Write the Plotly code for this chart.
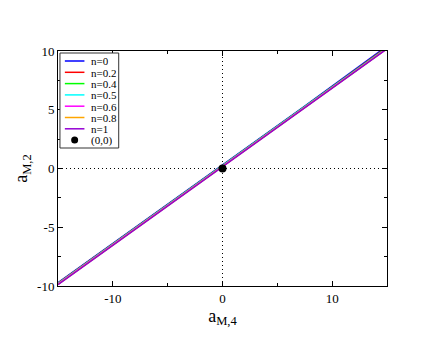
import plotly.graph_objects as go

# curves a_M,2 vs a_M,4 for several n
aM4 = [-15, -7.5, 0, 7.5, 15]
curves = {
    "n=0":   [-9.72, -4.72, 0.28, 5.30, 10.42],
    "n=0.2": [-9.76, -4.76, 0.24, 5.25, 10.33],
    "n=0.4": [-9.79, -4.79, 0.22, 5.22, 10.28],
    "n=0.5": [-9.81, -4.81, 0.20, 5.20, 10.25],
    "n=0.6": [-9.83, -4.83, 0.18, 5.18, 10.22],
    "n=0.8": [-9.86, -4.86, 0.16, 5.16, 10.20],
    "n=1":   [-9.88, -4.88, 0.14, 5.14, 10.18],
}
colors = ["#0000ff", "#ff0000", "#00ff00", "#00ffff", "#ff00ff", "#ffa500", "#9400d3"]
origin_x = [0]
origin_y = [0]
x_ticks = [-10, 0, 10]
y_ticks = [-10, -5, 0, 5, 10]

SERIF = "Liberation Serif, Times New Roman, serif"

fig = go.Figure()
for (name, ys), c in zip(curves.items(), colors):
    fig.add_trace(go.Scatter(x=aM4, y=ys, mode="lines", name=name, showlegend=False,
                             line=dict(color=c, width=1.5)))
fig.add_trace(go.Scatter(x=origin_x, y=origin_y, mode="markers", name="(0,0)", showlegend=False,
                         marker=dict(color="black", size=8)))

# dotted zero lines
dots = "1px,3px"
fig.add_shape(type="line", x0=0, x1=0, y0=-10, y1=10, xref="x", yref="y",
              line=dict(color="black", width=1, dash=dots), layer="below")
fig.add_shape(type="line", x0=-15, x1=15, y0=0, y1=0, xref="x", yref="y",
              line=dict(color="black", width=1, dash=dots), layer="below")

# hand-built compact legend (plotly's own legend rows are too tall)
W, H = 336.0, 235.0
def px(x):
    return x / W
def py(y):
    return 1 - y / H

fig.add_shape(type="rect", xref="paper", yref="paper", x0=px(2), x1=px(62), y0=py(97), y1=py(2),
              line=dict(color="#333333", width=1), fillcolor="white")
row = 11.3
labels = list(curves.keys()) + ["(0,0)"]
for i, lab in enumerate(labels):
    yy = py(10 + row * i)
    if i < len(colors):
        fig.add_shape(type="line", xref="paper", yref="paper", x0=px(7), x1=px(27), y0=yy, y1=yy,
                      line=dict(color=colors[i], width=1.5))
    else:
        fig.add_shape(type="circle", xref="paper", yref="paper", xsizemode="pixel", ysizemode="pixel",
                      xanchor=px(17), yanchor=yy, x0=-3.5, x1=3.5, y0=-3.5, y1=3.5,
                      fillcolor="black", line=dict(color="black", width=0))
    fig.add_annotation(x=px(33), y=yy, xref="paper", yref="paper", text=lab, showarrow=False,
                       xanchor="left", yanchor="middle", borderpad=0, height=11,
                       font=dict(family=SERIF, size=11, color="black"))

axis_common = dict(showgrid=False, zeroline=False, showline=True, linecolor="black",
                   linewidth=1, mirror="allticks", ticks="inside", ticklen=5,
                   tickcolor="black", tickfont=dict(family=SERIF, size=13, color="black"))

fig.update_xaxes(range=[-15, 15], tickvals=x_ticks, ticktext=[str(v) for v in x_ticks],
                 minor=dict(ticks="inside", tickvals=[-5, 5], ticklen=3, tickcolor="black"),
                 title=dict(text="a<sub>M,4</sub>", standoff=2,
                            font=dict(family=SERIF, size=18, color="black")),
                 **axis_common)
fig.update_yaxes(range=[-10, 10], tickvals=y_ticks, ticktext=[str(v) for v in y_ticks],
                 minor=dict(ticks="inside", tickvals=[-7.5, -2.5, 2.5, 7.5], ticklen=3, tickcolor="black"),
                 title=dict(text="a<sub>M,2</sub>", standoff=4,
                            font=dict(family=SERIF, size=18, color="black")),
                 **axis_common)

fig.update_layout(
    width=436, height=337,
    margin=dict(l=43, r=57, t=43, b=59),
    plot_bgcolor="white", paper_bgcolor="white",
    font=dict(family=SERIF, color="black"),
    showlegend=False,
)

fig.write_html("out.html")
